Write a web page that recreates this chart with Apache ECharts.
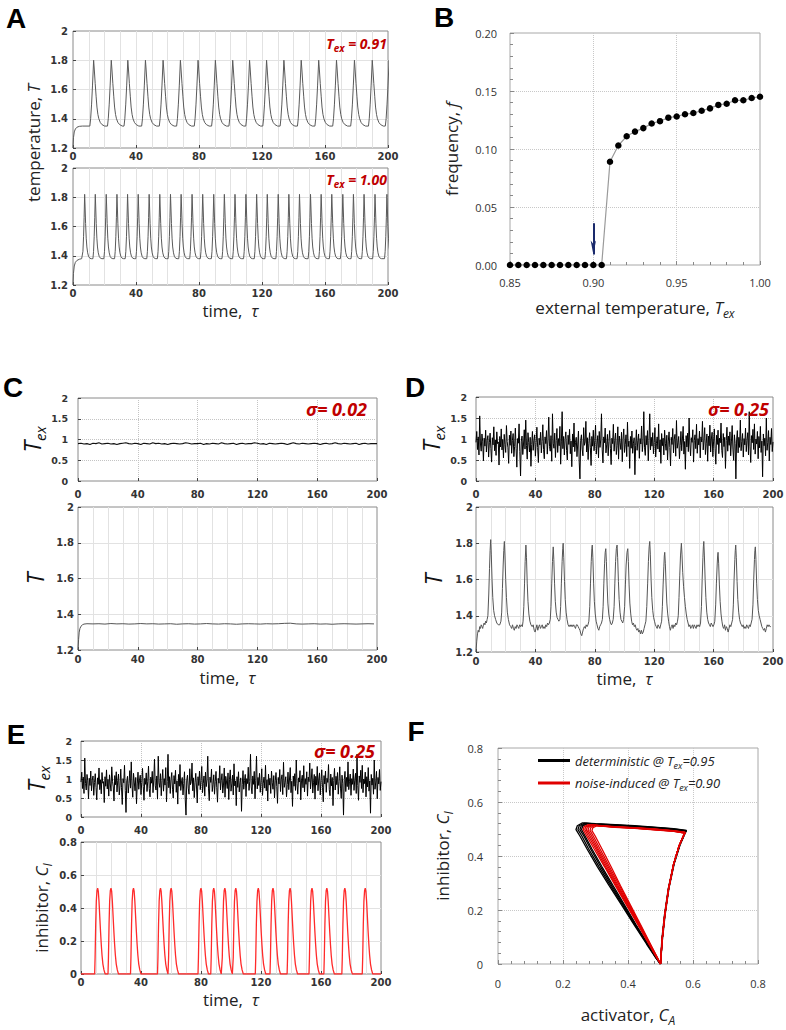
<!DOCTYPE html>
<html><head><meta charset="utf-8">
<script src="https://cdn.jsdelivr.net/npm/echarts@6/dist/echarts.min.js"></script>
<style>html,body{margin:0;padding:0;background:#fff}#c{width:786px;height:1030px}</style>
</head><body><div id="c"></div>
<script>
// ---------------- DATA ----------------
// Panel A (top, Tex = 0.91): start transient, spike peak times, one spike's shape
const a1Prelude = [[0,1.2],[0.3,1.27],[0.8,1.31],[1.5,1.33],[2.5,1.342],[4,1.348],[6,1.35]];
const a1SpikeTimes = [13.1,24.3,34.8,46.0,57.2,68.2,79.4,90.4,101.4,112.1,122.9,133.9,144.9,156.0,167.3,178.7,190.0,200.7];
const a1SpikeShape = [[-2.4,1.35],[-1.9,1.40],[-1.3,1.50],[-0.7,1.63],[0,1.80],[0.4,1.74],[1.0,1.64],[1.6,1.55],[2.1,1.48],[2.7,1.43],[3.3,1.40],[4.2,1.375],[5.3,1.36],[7.0,1.35]];
// Panel A (bottom, Tex = 1.00)
const a2Prelude = [[0,1.2],[0.3,1.28],[0.8,1.33],[1.5,1.355],[2.5,1.368],[4,1.376],[5.5,1.38]];
const a2SpikeTimes = [7.4,14.15,21.1,27.9,34.65,41.4,48.35,55.1,61.9,68.65,75.6,82.35,89.35,96.1,102.85,109.8,116.6,123.35,130.3,137.05,143.8,150.8,157.55,164.3,171.3,178.05,184.8,191.75,199.3];
const a2SpikeShape = [[-1.5,1.38],[-1.1,1.43],[-0.7,1.53],[-0.35,1.66],[0,1.82],[0.25,1.74],[0.6,1.62],[1.0,1.52],[1.4,1.46],[1.9,1.42],[2.5,1.395],[3.3,1.383],[4.2,1.38]];

// Panel B
const bTex = [0.85,0.855,0.86,0.865,0.87,0.875,0.88,0.885,0.89,0.895,0.90,0.905,0.91,0.915,0.92,0.925,0.93,0.935,0.94,0.945,0.95,0.955,0.96,0.965,0.97,0.975,0.98,0.985,0.99,0.995,1.00];
const bFreq = [0,0,0,0,0,0,0,0,0,0,0,0,0.089,0.103,0.111,0.115,0.118,0.122,0.124,0.127,0.128,0.130,0.131,0.133,0.135,0.138,0.139,0.142,0.142,0.144,0.145];
const bArrow = [[0.9,0.036],[0.9,0.009]];

// Panel C (sigma = 0.02): Tex every 2 time units
const cTexStep = 2;
const cTex = [0.9,0.91,0.89,0.9,0.88,0.91,0.9,0.92,0.89,0.9,
0.91,0.89,0.9,0.88,0.9,0.91,0.92,0.9,0.89,0.91,
0.9,0.88,0.91,0.9,0.89,0.92,0.9,0.91,0.89,0.9,
0.88,0.9,0.91,0.9,0.89,0.9,0.92,0.91,0.89,0.9,
0.9,0.91,0.88,0.9,0.89,0.91,0.9,0.89,0.92,0.9,
0.89,0.9,0.91,0.88,0.9,0.91,0.89,0.9,0.9,0.92,
0.91,0.89,0.9,0.88,0.91,0.9,0.89,0.9,0.91,0.9,
0.88,0.9,0.92,0.9,0.89,0.91,0.9,0.89,0.9,0.91,
0.9,0.88,0.9,0.91,0.89,0.9,0.92,0.9,0.89,0.91,
0.9,0.89,0.9,0.91,0.88,0.9,0.91,0.89,0.9,0.9,0.9];
const cT = [[0,1.2],[0.4,1.26],[0.8,1.3],[1.3,1.32],[2,1.333],[3,1.341],[4,1.345],[6,1.347],
[10,1.346],[14,1.347],[18,1.345],[22,1.348],[26,1.346],[30,1.347],[34,1.345],[38,1.346],[42,1.348],[46,1.346],
[50,1.347],[54,1.345],[58,1.346],[62,1.347],[66,1.344],[70,1.346],[74,1.347],[78,1.345],[82,1.346],[86,1.348],
[90,1.346],[94,1.345],[98,1.347],[102,1.346],[106,1.344],[110,1.346],[114,1.347],[118,1.346],[122,1.345],[126,1.347],
[130,1.346],[134,1.347],[138,1.349],[142,1.350],[146,1.346],[150,1.345],[154,1.346],[158,1.347],[162,1.345],[166,1.346],
[170,1.344],[174,1.346],[178,1.347],[182,1.346],[186,1.345],[190,1.346],[194,1.347],[198,1.346]];

// Panels D and E (sigma = 0.25): same Tex noise realisation, every 0.5 time units
const texStep = 0.5;
const texNoise = [0.92,1.18,0.75,1.05,0.62,1.55,0.88,0.71,1.12,0.95,0.48,1.02,0.83,1.21,0.69,0.97,1.08,0.57,0.91,1.14,
0.78,0.45,1.03,0.86,1.29,0.72,0.98,0.61,1.17,0.89,0.93,0.38,1.06,0.81,1.24,0.74,0.99,0.55,1.11,0.87,
0.68,1.32,0.94,0.79,0.42,1.09,0.85,1.19,0.66,0.96,1.13,0.58,0.82,1.26,0.77,0.33,1.01,0.90,1.36,0.70,
0.12,0.95,1.07,0.63,0.88,1.22,0.76,1.45,0.84,0.52,1.15,0.92,0.69,1.04,0.35,0.87,1.18,0.73,0.97,1.10,
0.59,0.91,1.28,0.80,0.44,1.02,0.86,1.16,0.67,0.94,1.34,0.75,0.53,1.05,0.89,1.20,0.64,0.98,1.52,0.82,
0.71,1.08,0.47,1.60,0.90,0.78,1.14,0.56,0.96,1.25,0.68,1.01,0.84,1.30,0.40,0.93,1.65,0.77,1.06,0.62,
0.99,1.17,0.73,0.50,1.09,0.87,1.23,0.65,0.95,0.34,1.12,0.81,1.38,0.70,0.92,1.04,0.58,0.88,1.19,0.45,
0.05,0.97,1.10,0.76,0.60,1.27,0.85,0.93,1.42,0.69,1.03,0.51,0.90,1.15,0.79,0.37,1.06,0.83,1.21,0.72,
0.96,1.33,0.64,0.88,1.08,0.55,1.18,0.80,0.98,1.60,0.74,0.43,1.05,0.91,1.26,0.67,0.86,1.11,0.60,0.94,
1.20,0.77,0.39,1.02,0.89,1.35,0.71,0.97,1.14,0.63,0.84,1.29,0.52,1.07,0.92,0.75,1.16,0.46,0.99,1.24,
0.68,0.87,1.10,0.58,1.40,0.82,0.95,0.30,1.06,0.78,1.19,0.66,0.90,1.03,0.15,0.85,1.22,0.73,0.96,1.12,
0.54,1.01,0.88,1.31,0.70,0.93,1.65,0.79,0.61,1.08,0.86,1.20,0.48,0.97,1.60,0.74,1.04,0.83,1.15,0.65,
0.92,1.27,0.57,0.89,1.05,0.76,1.36,0.69,0.98,0.42,1.13,0.84,1.02,0.62,1.21,0.90,0.73,1.09,0.50,0.95,
1.17,0.80,0.36,1.04,0.87,1.25,0.67,0.99,1.11,0.59,1.44,0.78,0.91,1.06,0.53,0.85,1.18,0.72,1.00,1.30,
0.64,0.94,0.28,1.08,0.81,1.14,0.70,1.50,0.88,0.60,1.03,0.92,1.22,0.45,0.97,1.10,0.77,1.35,0.66,1.01,
0.86,1.19,0.55,1.05,0.93,1.42,0.74,0.98,1.27,0.63,0.90,1.12,0.47,1.07,0.84,1.33,0.69,1.00,1.16,0.58,
0.95,1.24,0.78,0.40,1.09,0.87,1.21,0.65,1.02,0.91,1.38,0.73,0.56,1.13,0.82,1.04,0.30,0.96,1.28,0.71,
1.07,0.85,1.17,0.60,0.93,1.32,0.76,0.49,1.10,0.89,0.05,0.98,1.20,0.67,1.04,0.80,1.45,0.72,0.94,1.13,
0.57,1.01,0.86,1.26,0.70,0.97,1.15,0.62,1.65,0.83,0.44,1.08,0.91,1.23,0.75,1.36,0.64,1.00,0.88,1.18,
0.53,1.06,0.79,1.30,0.68,0.95,0.10,1.12,0.84,1.02,0.60,1.50,0.73,0.92,1.20,0.48,1.04,0.87,1.25,0.70,0.93];

// Panel D bottom: temperature T (time, value)
const dT = [[0,1.2],[0.5,1.26],[1,1.3],[1.5,1.32],[2,1.31],[2.5,1.34],[3,1.33],[3.5,1.35],[4,1.34],[4.5,1.33],[5,1.35],[5.5,1.36],[6,1.35],[6.5,1.37],[7,1.36],[7.5,1.38],
[8.0,1.40],[8.6,1.52],[9.1,1.66],[9.5,1.76],[9.9,1.82],[10.3,1.74],[10.8,1.6],[11.3,1.5],[11.9,1.43],[12.5,1.4],[13.2,1.38],[14,1.36],[15,1.35],[16,1.35],[16.8,1.37],
[17.3,1.42],[17.8,1.55],[18.3,1.68],[18.7,1.76],[19.1,1.81],[19.5,1.73],[20,1.6],[20.5,1.5],[21.1,1.42],[21.8,1.38],[22.6,1.35],[23.4,1.34],[24,1.33],[24.6,1.35],[25.2,1.33],[25.8,1.32],[26.4,1.34],[27,1.33],[27.6,1.35],[28.2,1.34],[28.8,1.33],[29.4,1.35],[30,1.34],[30.6,1.35],[31.2,1.34],[31.7,1.37],
[32.2,1.45],[32.7,1.58],[33.1,1.7],[33.6,1.79],[34,1.72],[34.5,1.58],[35,1.48],[35.6,1.41],[36.3,1.37],[37,1.35],[37.8,1.34],[38.5,1.35],[39.2,1.32],[39.8,1.31],[40.4,1.33],[41,1.35],[41.6,1.32],[42.2,1.34],[42.8,1.35],[43.4,1.33],[44,1.34],[44.6,1.35],[45.2,1.33],[45.8,1.34],[46.4,1.33],[47,1.35],[47.6,1.34],[48.2,1.36],[48.8,1.35],[49.4,1.36],[50,1.38],
[50.5,1.45],[51,1.58],[51.5,1.7],[52,1.78],[52.4,1.71],[52.9,1.58],[53.4,1.48],[54,1.42],[54.6,1.39],[55.2,1.38],[55.8,1.37],[56.5,1.38],
[57,1.45],[57.5,1.58],[58,1.7],[58.4,1.77],[58.7,1.8],[59.1,1.72],[59.6,1.59],[60.1,1.49],[60.7,1.42],[61.3,1.38],[62,1.35],[62.7,1.34],[63.4,1.35],[64,1.34],[64.6,1.35],[65.2,1.34],[65.8,1.35],[66.4,1.34],[67,1.33],[67.6,1.35],[68.2,1.35],[68.8,1.34],[69.4,1.33],[70,1.32],[70.6,1.3],[71.2,1.29],[71.8,1.31],[72.4,1.33],[73,1.34],[73.6,1.33],[74.2,1.35],[74.8,1.34],[75.4,1.35],[76,1.37],
[76.6,1.45],[77.1,1.58],[77.6,1.7],[78,1.77],[78.3,1.79],[78.7,1.72],[79.2,1.58],[79.7,1.48],[80.3,1.41],[80.9,1.37],[81.5,1.35],[82.1,1.33],[82.7,1.32],[83.3,1.34],[83.9,1.35],[84.5,1.36],[85.1,1.38],
[85.6,1.45],[86.1,1.58],[86.6,1.69],[87,1.75],[87.4,1.77],[87.8,1.7],[88.3,1.57],[88.8,1.47],[89.4,1.41],[90,1.38],[90.6,1.36],[91.2,1.35],[91.8,1.36],[92.4,1.38],
[93,1.45],[93.5,1.58],[94,1.7],[94.5,1.77],[95,1.79],[95.4,1.72],[95.9,1.59],[96.4,1.49],[97,1.42],[97.6,1.38],[98.2,1.37],[98.8,1.36],[99.4,1.38],
[100.1,1.45],[100.6,1.57],[101.1,1.68],[101.7,1.75],[102.2,1.77],[102.6,1.7],[103.1,1.57],[103.6,1.47],[104.2,1.41],[104.8,1.37],[105.4,1.35],[106,1.36],[106.6,1.34],[107.2,1.35],[107.8,1.33],[108.4,1.32],[109,1.33],[109.6,1.31],[110.2,1.32],[110.8,1.3],[111.4,1.32],[112,1.3],[112.6,1.31],[113.2,1.33],[113.8,1.35],[114.4,1.37],
[115,1.45],[115.6,1.58],[116.1,1.7],[116.6,1.78],[117,1.81],[117.4,1.74],[117.9,1.6],[118.4,1.5],[119,1.43],[119.6,1.39],[120.2,1.37],[120.8,1.35],[121.4,1.34],[122,1.33],[122.6,1.35],[123.2,1.34],[123.8,1.33],[124.4,1.35],[125,1.37],
[125.5,1.45],[126,1.57],[126.5,1.67],[126.8,1.73],[127.1,1.75],[127.5,1.69],[128,1.57],[128.5,1.47],[129.1,1.41],[129.7,1.37],[130.3,1.34],[130.9,1.32],[131.5,1.34],[132.1,1.35],[132.7,1.33],[133.3,1.35],[133.9,1.34],[134.5,1.36],[135.1,1.35],[135.7,1.37],[136.2,1.4],
[136.7,1.5],[137.2,1.62],[137.7,1.73],[138.3,1.8],[138.7,1.74],[139.2,1.64],[139.8,1.56],[140.4,1.5],[141,1.45],[141.6,1.41],[142.2,1.38],[142.8,1.36],[143.4,1.34],[144,1.35],[144.6,1.33],[145.2,1.34],[145.8,1.35],[146.4,1.33],[147,1.35],[147.6,1.34],[148.2,1.33],[148.8,1.35],[149.4,1.34],[150,1.35],[150.6,1.34],[151.2,1.36],
[151.8,1.45],[152.3,1.6],[152.8,1.72],[153.1,1.78],[153.4,1.81],[153.8,1.73],[154.3,1.6],[154.8,1.5],[155.4,1.42],[156,1.38],[156.6,1.36],[157.2,1.35],[157.8,1.34],[158.4,1.36],[159,1.35],[159.6,1.34],[160.2,1.35],[160.8,1.37],
[161.4,1.46],[161.9,1.58],[162.4,1.68],[162.7,1.73],[163,1.75],[163.4,1.69],[163.9,1.57],[164.4,1.48],[165,1.41],[165.6,1.37],[166.2,1.34],[166.8,1.33],[167.4,1.35],[168,1.32],[168.6,1.34],[169.2,1.33],[169.8,1.31],[170.4,1.33],[171,1.35],[171.6,1.34],[172.2,1.36],[172.8,1.38],
[173.3,1.46],[173.8,1.6],[174.3,1.71],[174.6,1.76],[174.9,1.79],[175.3,1.72],[175.8,1.59],[176.3,1.49],[176.9,1.42],[177.5,1.38],[178.1,1.36],[178.7,1.35],[179.3,1.34],[179.9,1.35],[180.5,1.33],[181.1,1.34],[181.7,1.33],[182.3,1.35],[182.9,1.34],[183.5,1.33],[184.1,1.35],[184.7,1.34],[185.3,1.36],[185.9,1.38],
[186.5,1.46],[187,1.6],[187.5,1.71],[187.8,1.76],[188.1,1.78],[188.5,1.71],[189,1.58],[189.5,1.49],[190.1,1.43],[190.7,1.4],[191.3,1.38],[191.9,1.36],[192.5,1.34],[193.1,1.33],[193.7,1.32],[194.3,1.33],[194.9,1.31],[195.5,1.33],[196.1,1.35],[196.7,1.34],[197.3,1.35],[197.9,1.34],[198.5,1.34]];

// Panel E bottom: inhibitor pulses
const eSpikeTimes = [11.1,20.0,35.0,53.0,60.1,80.0,88.5,95.9,103.2,118.2,128.0,139.4,154.0,163.9,175.9,189.5];
const eSpikeShape = [[-2.0,0],[-1.7,0.1],[-1.3,0.3],[-0.9,0.44],[-0.45,0.505],[0,0.52],[0.45,0.5],[0.9,0.44],[1.4,0.35],[1.9,0.26],[2.4,0.18],[2.9,0.115],[3.5,0.06],[4.2,0.025],[5.0,0]];

// Panel F: limit cycles (activator C_A, inhibitor C_I)
const fDeterministic = [
 [[0.500,0.000],[0.506,0.090],[0.514,0.180],[0.526,0.280],[0.542,0.370],[0.560,0.440],[0.574,0.480],[0.580,0.495],[0.540,0.501],[0.480,0.507],[0.420,0.512],[0.360,0.516],[0.300,0.520],[0.260,0.523],[0.244,0.512],[0.240,0.498],[0.252,0.474],[0.274,0.426],[0.306,0.360],[0.342,0.290],[0.381,0.217],[0.419,0.145],[0.457,0.074],[0.486,0.022],[0.500,0.000]],
 [[0.500,0.000],[0.505,0.090],[0.513,0.180],[0.525,0.280],[0.541,0.370],[0.559,0.441],[0.573,0.479],[0.579,0.494],[0.540,0.500],[0.480,0.506],[0.420,0.511],[0.360,0.515],[0.300,0.519],[0.266,0.522],[0.250,0.512],[0.246,0.498],[0.258,0.474],[0.279,0.426],[0.311,0.360],[0.346,0.290],[0.384,0.217],[0.421,0.145],[0.459,0.074],[0.487,0.022],[0.500,0.000]],
 [[0.500,0.000],[0.505,0.090],[0.513,0.180],[0.525,0.280],[0.541,0.370],[0.559,0.441],[0.573,0.479],[0.578,0.493],[0.540,0.499],[0.480,0.505],[0.420,0.510],[0.360,0.514],[0.300,0.518],[0.271,0.521],[0.256,0.511],[0.252,0.498],[0.264,0.474],[0.285,0.426],[0.316,0.360],[0.350,0.290],[0.387,0.217],[0.423,0.145],[0.460,0.074],[0.487,0.022],[0.500,0.000]],
 [[0.500,0.000],[0.504,0.090],[0.512,0.180],[0.524,0.280],[0.540,0.370],[0.558,0.440],[0.572,0.478],[0.578,0.492],[0.540,0.498],[0.480,0.504],[0.420,0.509],[0.360,0.513],[0.300,0.517],[0.276,0.520],[0.261,0.511],[0.257,0.498],[0.268,0.474],[0.289,0.426],[0.320,0.360],[0.354,0.290],[0.390,0.217],[0.425,0.145],[0.461,0.074],[0.488,0.022],[0.500,0.000]]
];
const fNoiseInduced = [
 [[0.500,0.000],[0.505,0.090],[0.513,0.180],[0.525,0.280],[0.540,0.368],[0.557,0.437],[0.570,0.474],[0.576,0.488],[0.540,0.494],[0.480,0.500],[0.420,0.505],[0.360,0.509],[0.320,0.512],[0.278,0.516],[0.265,0.509],[0.262,0.498],[0.273,0.474],[0.296,0.426],[0.328,0.360],[0.361,0.290],[0.396,0.217],[0.431,0.145],[0.464,0.074],[0.489,0.022],[0.500,0.000]],
 [[0.500,0.000],[0.505,0.090],[0.513,0.180],[0.525,0.280],[0.540,0.368],[0.557,0.437],[0.570,0.474],[0.575,0.487],[0.540,0.493],[0.480,0.499],[0.420,0.504],[0.360,0.508],[0.325,0.511],[0.283,0.515],[0.270,0.508],[0.267,0.498],[0.278,0.474],[0.301,0.426],[0.331,0.360],[0.364,0.290],[0.398,0.217],[0.432,0.145],[0.465,0.074],[0.490,0.022],[0.500,0.000]],
 [[0.500,0.000],[0.505,0.090],[0.513,0.180],[0.525,0.280],[0.540,0.368],[0.557,0.437],[0.570,0.473],[0.576,0.486],[0.540,0.493],[0.480,0.499],[0.420,0.504],[0.360,0.508],[0.330,0.511],[0.288,0.515],[0.275,0.508],[0.272,0.497],[0.283,0.474],[0.305,0.426],[0.335,0.360],[0.367,0.290],[0.401,0.217],[0.434,0.145],[0.466,0.074],[0.490,0.022],[0.500,0.000]],
 [[0.500,0.000],[0.505,0.090],[0.513,0.180],[0.525,0.280],[0.540,0.368],[0.557,0.437],[0.570,0.473],[0.575,0.485],[0.540,0.492],[0.480,0.498],[0.420,0.503],[0.360,0.507],[0.335,0.510],[0.293,0.514],[0.280,0.507],[0.277,0.496],[0.288,0.474],[0.309,0.426],[0.339,0.360],[0.370,0.290],[0.403,0.217],[0.435,0.145],[0.467,0.074],[0.490,0.022],[0.500,0.000]],
 [[0.500,0.000],[0.505,0.090],[0.513,0.180],[0.525,0.280],[0.540,0.368],[0.557,0.437],[0.570,0.473],[0.575,0.485],[0.540,0.492],[0.480,0.498],[0.420,0.503],[0.360,0.507],[0.340,0.509],[0.299,0.513],[0.286,0.506],[0.283,0.495],[0.293,0.474],[0.314,0.426],[0.343,0.360],[0.374,0.290],[0.405,0.217],[0.437,0.145],[0.468,0.074],[0.491,0.022],[0.500,0.000]],
 [[0.500,0.000],[0.505,0.090],[0.513,0.180],[0.525,0.280],[0.540,0.368],[0.557,0.437],[0.570,0.473],[0.575,0.485],[0.540,0.491],[0.480,0.497],[0.420,0.502],[0.360,0.506],[0.345,0.508],[0.305,0.512],[0.292,0.505],[0.289,0.494],[0.299,0.474],[0.320,0.426],[0.348,0.360],[0.377,0.290],[0.408,0.217],[0.439,0.145],[0.469,0.074],[0.491,0.022],[0.500,0.000]]
];

// ---------------- BUILD ----------------
function train(prelude, times, shape) {
  const out = prelude.slice();
  for (let i = 0; i < times.length; i++) {
    const tp = times[i];
    const nextStart = i + 1 < times.length ? times[i + 1] + shape[0][0] : Infinity;
    let last = out[out.length - 1][0];
    for (const [dt, v] of shape) {
      const t = +(tp + dt).toFixed(3);
      if (t <= last) continue;
      if (t >= nextStart) break;
      out.push([t, v]);
      last = t;
    }
  }
  return out;
}
const a1Data = train(a1Prelude, a1SpikeTimes, a1SpikeShape);
const a2Data = train(a2Prelude, a2SpikeTimes, a2SpikeShape);
const eData = train([[0, 0]], eSpikeTimes, eSpikeShape); eData.push([200, 0]);
const bData = bTex.map((x, i) => [x, bFreq[i]]);
const cTexData = cTex.map((v, i) => [i * cTexStep, v]);
const noiseData = texNoise.map((v, i) => [i * texStep, v]);

const FF = 'Open Sans';
const RICH = {
  n: {fontFamily: FF, fontSize: 17, color: '#222', fill: '#222'},
  i: {fontFamily: FF, fontSize: 17, fontStyle: 'italic', color: '#222', fill: '#222'},
  s: {fontFamily: FF, fontSize: 12, fontStyle: 'italic', color: '#222', fill: '#222', padding: [12, 0, 0, 0]},
  TT: {fontFamily: FF, fontSize: 23, fontStyle: 'italic', color: '#111', fill: '#111'},
  ts: {fontFamily: FF, fontSize: 15, fontStyle: 'italic', color: '#111', fill: '#111', padding: [15, 0, 0, 0]}
};
const RED = '#c00000';
const RRICH = {
  r: {fontFamily: FF, fontSize: 14, fontWeight: 'bold', fontStyle: 'italic', color: RED, fill: RED},
  rs: {fontFamily: FF, fontSize: 10, fontWeight: 'bold', fontStyle: 'italic', color: RED, fill: RED, padding: [9, 0, 0, 0]},
  g: {fontFamily: FF, fontSize: 18, fontWeight: 'bold', fontStyle: 'italic', color: RED, fill: RED}
};

function grid(l, t, w, h, c) {
  return {left: l, top: t, width: w, height: h, show: true, borderColor: c || '#8a8a8a', borderWidth: 1,
          backgroundColor: 'rgba(0,0,0,0)', containLabel: false, outerBoundsMode: 'none'};
}
const tickLabel = {fontFamily: 'DejaVu Sans', fontWeight: 'bold', fontSize: 10, color: '#333'};
function splits(style, minor) {
  return {
    splitLine: style === 'solid'
      ? {show: true, showMinLine: false, showMaxLine: false, lineStyle: {color: '#e2e2e2', width: 1}}
      : {show: true, showMinLine: false, showMaxLine: false, lineStyle: {color: '#c4c4c4', width: 1, type: 'dotted'}},
    minorTick: {show: false, splitNumber: minor || 4},
    minorSplitLine: {show: style === 'solid' && !!minor, lineStyle: {color: '#e2e2e2', width: 1}}
  };
}
function timeX(gi, margin, style, name, gap) {
  const ax = Object.assign({
    type: 'value', gridIndex: gi, min: 0, max: 200, interval: 40,
    axisLine: {show: false},
    axisTick: {show: true, inside: true, length: 3, lineStyle: {color: '#444'}},
    axisLabel: Object.assign({margin: margin}, tickLabel)
  }, splits(style, style === 'solid' ? 4 : 0));
  if (name) Object.assign(ax, {name: name, nameLocation: 'middle', nameGap: gap, nameTextStyle: {rich: RICH, fontFamily: FF, fontSize: 17}});
  return ax;
}
function valY(gi, min, max, interval, margin, style, name, gap, fs) {
  const ax = Object.assign({
    type: 'value', gridIndex: gi, min: min, max: max, interval: interval,
    axisLine: {show: false},
    axisTick: {show: true, inside: true, length: 3, lineStyle: {color: '#444'}},
    axisLabel: Object.assign({margin: margin}, tickLabel, {fontSize: fs || 10})
  }, splits(style, 0));
  if (name) Object.assign(ax, {name: name, nameLocation: 'middle', nameRotate: 90, nameGap: gap, nameTextStyle: {rich: RICH, fontFamily: FF, fontSize: 17}});
  return ax;
}
const plainLabel = {fontFamily: FF, fontSize: 11, color: '#333'};

const option = {
  animation: false,
  backgroundColor: '#fff',
  textStyle: {fontFamily: FF},
  grid: [
    grid(73, 31, 315, 117), grid(73, 168, 315, 117),
    grid(510, 33, 250, 232, '#a8a8a8'),
    grid(78, 398, 299, 83), grid(78, 507, 299, 143),
    grid(476, 397, 297, 84), grid(476, 507, 297, 145),
    grid(81, 741, 300, 76), grid(81, 842, 300, 132),
    grid(498, 748, 260, 216, '#a8a8a8')
  ],
  xAxis: [
    timeX(0, 3, 'solid'),
    timeX(1, 3, 'solid', '{n|time,  }{i|τ}', 17),
    {type: 'value', gridIndex: 2, min: 0.85, max: 1.0, interval: 0.05,
     axisLine: {show: false}, axisTick: {show: true, inside: true, length: 4, lineStyle: {color: '#888'}},
     minorTick: {show: true, splitNumber: 5, length: 3, lineStyle: {color: '#888'}},
     axisLabel: Object.assign({margin: 12, formatter: v => v.toFixed(2)}, plainLabel),
     splitLine: {show: true, showMinLine: false, showMaxLine: false, lineStyle: {color: '#c8c8c8', type: 'dotted'}},
     name: '{n|external temperature, }{i|T}{s|ex}', nameLocation: 'middle', nameGap: 30, nameTextStyle: {rich: RICH, fontSize: 17}},
    timeX(3, 8, 'dotted'),
    timeX(4, 4, 'solid', '{n|time,  }{i|τ}', 19),
    timeX(5, 8, 'dotted'),
    timeX(6, 4, 'solid', '{n|time,  }{i|τ}', 18),
    timeX(7, 8, 'dotted'),
    timeX(8, 3, 'solid', '{n|time,  }{i|τ}', 17),
    {type: 'value', gridIndex: 9, min: 0, max: 0.8, interval: 0.2,
     axisLine: {show: false}, axisTick: {show: true, inside: true, length: 4, lineStyle: {color: '#888'}},
     minorTick: {show: true, splitNumber: 5, length: 3, lineStyle: {color: '#888'}},
     axisLabel: Object.assign({margin: 14}, plainLabel),
     splitLine: {show: true, showMinLine: false, showMaxLine: false, lineStyle: {color: '#c8c8c8', type: 'dotted'}},
     name: '{n|activator, }{i|C}{s|A}', nameLocation: 'middle', nameGap: 38, nameTextStyle: {rich: RICH, fontSize: 17}}
  ],
  yAxis: [
    valY(0, 1.2, 2, 0.2, 5, 'solid'),
    valY(1, 1.2, 2, 0.2, 5, 'solid'),
    {type: 'value', gridIndex: 2, min: 0, max: 0.2, interval: 0.05,
     axisLine: {show: false}, axisTick: {show: true, inside: true, length: 4, lineStyle: {color: '#888'}},
     minorTick: {show: true, splitNumber: 5, length: 3, lineStyle: {color: '#888'}},
     axisLabel: Object.assign({margin: 13, formatter: v => v.toFixed(2)}, plainLabel),
     splitLine: {show: true, showMinLine: false, showMaxLine: false, lineStyle: {color: '#c8c8c8', type: 'dotted'}},
     name: '{n|frequency, }{i|f}', nameLocation: 'middle', nameRotate: 90, nameGap: 50, nameTextStyle: {rich: RICH, fontSize: 17}},
    valY(3, 0, 2, 0.5, 10, 'dotted', '{TT|T}{ts|ex}', 26, 9.5),
    valY(4, 1.2, 2, 0.2, 4, 'solid', '{TT|T}', 32),
    valY(5, 0, 2, 0.5, 9, 'dotted', '{TT|T}{ts|ex}', 26, 9.5),
    valY(6, 1.2, 2, 0.2, 3, 'solid', '{TT|T}', 32),
    valY(7, 0, 2, 0.5, 9, 'dotted', '{TT|T}{ts|ex}', 24, 9.5),
    valY(8, 0, 0.8, 0.2, 4, 'solid', '{n|inhibitor, }{i|C}{s|I}', 28),
    {type: 'value', gridIndex: 9, min: 0, max: 0.8, interval: 0.2,
     axisLine: {show: false}, axisTick: {show: true, inside: true, length: 4, lineStyle: {color: '#888'}},
     minorTick: {show: true, splitNumber: 5, length: 3, lineStyle: {color: '#888'}},
     axisLabel: Object.assign({margin: 15}, plainLabel),
     splitLine: {show: true, showMinLine: false, showMaxLine: false, lineStyle: {color: '#c8c8c8', type: 'dotted'}},
     name: '{n|inhibitor, }{i|C}{s|I}', nameLocation: 'middle', nameRotate: 90, nameGap: 44, nameTextStyle: {rich: RICH, fontSize: 17}}
  ],
  legend: {
    left: 533, top: 749, orient: 'vertical', itemGap: 7, itemWidth: 32, itemHeight: 3, icon: 'rect',
    data: ['deterministic', 'noise-induced'],
    formatter: function (name) {
      return name === 'deterministic'
        ? '{l|deterministic @ }{l|T}{ls|ex}{l|=0.95}'
        : '{l|noise-induced @ }{l|T}{ls|ex}{l|=0.90}';
    },
    textStyle: {rich: {
      l: {fontFamily: FF, fontSize: 13, fontStyle: 'italic', color: '#222'},
      ls: {fontFamily: FF, fontSize: 9, fontStyle: 'italic', color: '#222', padding: [9, 0, 0, 0]}
    }}
  },
  series: [],
  graphic: []
};

const line = (xi, data, color, width, extra) => Object.assign({
  type: 'line', xAxisIndex: xi, yAxisIndex: xi, data: data, showSymbol: false, symbol: 'none',
  lineStyle: {color: color, width: width}, itemStyle: {color: color}, silent: true, z: 3
}, extra || {});

option.series.push(line(0, a1Data, '#5a5a5a', 1));
option.series.push(line(1, a2Data, '#5a5a5a', 1));
option.series.push({
  type: 'line', xAxisIndex: 2, yAxisIndex: 2, data: bData, symbol: 'circle', symbolSize: 6.5, showSymbol: true,
  lineStyle: {color: '#9a9a9a', width: 1.2}, itemStyle: {color: '#000'}, silent: true, z: 3,
  markLine: {silent: true, symbol: ['none', 'arrow'], symbolSize: [4, 14], label: {show: false},
    lineStyle: {color: '#1a2a6c', width: 2, type: 'solid'},
    data: [[{coord: bArrow[0]}, {coord: bArrow[1]}]]}
});
option.series.push(line(3, cTexData, '#111', 1.1));
option.series.push(line(4, cT, '#555', 1));
option.series.push(line(5, noiseData, '#000', 1));
option.series.push(line(6, dT, '#555', 1));
option.series.push(line(7, noiseData, '#000', 1));
option.series.push(line(8, eData, '#ff2a2a', 1.3));
fDeterministic.forEach(loop => option.series.push(line(9, loop, '#000', 1.3, {name: 'deterministic'})));
fNoiseInduced.forEach(loop => option.series.push(line(9, loop, '#e00000', 1.3, {name: 'noise-induced', z: 4})));

// panel letters
[['A', 16, 18], ['B', 444, 17], ['C', 13, 387], ['D', 415, 387], ['E', 16, 734], ['F', 416, 731]].forEach(p => {
  option.graphic.push({type: 'text', x: p[1], y: p[2], silent: true,
    style: {text: p[0], fontFamily: 'Liberation Sans', fontWeight: 'bold', fontSize: 28, fill: '#000', align: 'center', verticalAlign: 'middle'}});
});
// shared y title of panel A
option.graphic.push({type: 'text', x: 33, y: 143, rotation: Math.PI / 2, silent: true,
  style: {text: '{n|temperature, }{i|T}', rich: RICH, fill: '#222', align: 'center', verticalAlign: 'middle'}});
// red annotations
const ann = [
  ['{r|T}{rs|ex}{r| = 0.91}', 387, 43],
  ['{r|T}{rs|ex}{r| = 1.00}', 387, 179],
  ['{g|σ= 0.02}', 367, 409],
  ['{g|σ= 0.25}', 769, 409],
  ['{g|σ= 0.25}', 375, 751]
];
ann.forEach(a => option.graphic.push({type: 'text', x: a[1], y: a[2], silent: true, z: 10,
  style: {text: a[0], rich: RRICH, fill: RED, align: 'right', verticalAlign: 'middle'}}));

const chart = echarts.init(document.getElementById('c'), null, {renderer: 'svg'});
chart.setOption(option);
</script></body></html>
